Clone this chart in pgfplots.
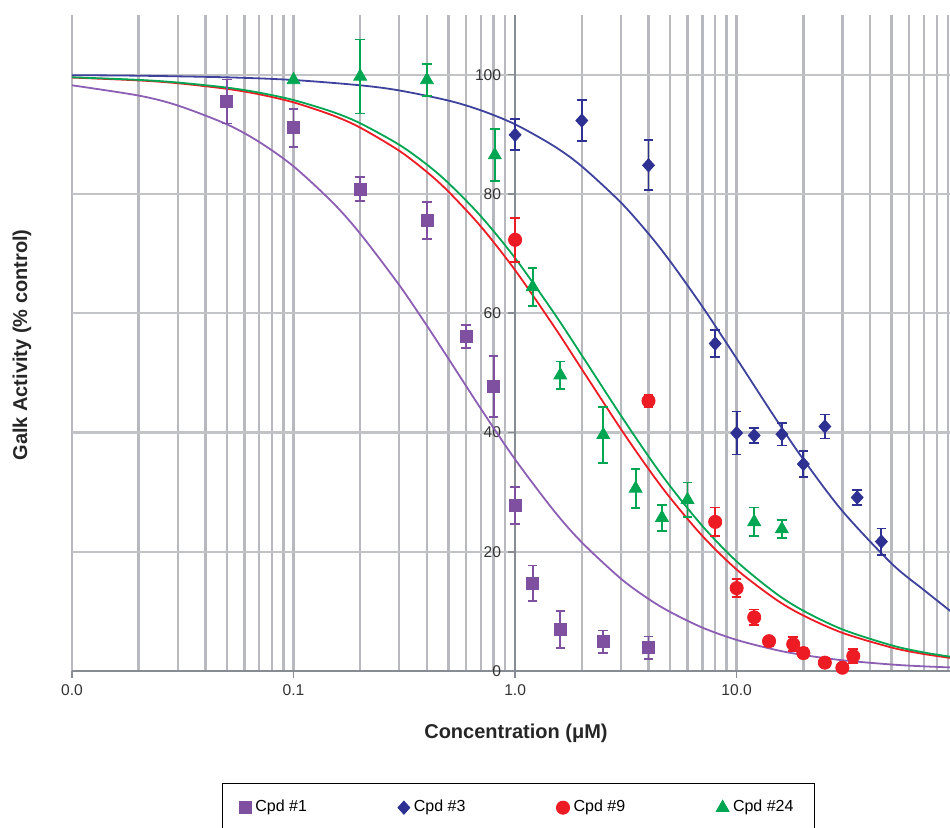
\documentclass[border=0pt]{standalone}
\usepackage{pgfplots}
\pgfplotsset{compat=1.18}
\usepackage{fontspec}
\setmainfont{Liberation Sans}
\definecolor{cpurple}{RGB}{128,80,160}
\definecolor{cpurpleL}{RGB}{140,95,180}
\definecolor{cblue}{RGB}{46,49,146}
\definecolor{cblueL}{RGB}{62,66,156}
\definecolor{cred}{RGB}{237,28,36}
\definecolor{cgreen}{RGB}{0,166,81}
\definecolor{gridv}{RGB}{184,185,190}
\definecolor{gridh}{RGB}{194,195,199}
\definecolor{axisgray}{RGB}{135,140,147}
\begin{document}
\begin{tikzpicture}
\begin{axis}[
  at={(36pt,78pt)}, anchor=south west,
  scale only axis, width=439pt, height=328pt,
  xmode=log, log basis x=10,
  xmin=0.01, xmax=91.8, ymin=0, ymax=110,
  enlargelimits=false,
  axis x line=bottom, axis y line=middle,
  axis line style={-},
  x axis line style={draw=axisgray, line width=1.1pt},
  y axis line style={draw=axisgray, line width=0.7pt},
  hide obscured x ticks=false, hide obscured y ticks=false,
  xtick={0.01,0.1,1,10}, xticklabels={0.0,0.1,1.0,10.0},
  minor xtick={0.02,0.03,0.04,0.05,0.06,0.07,0.08,0.09,0.2,0.3,0.4,0.5,0.6,0.7,0.8,0.9,2,3,4,5,6,7,8,9,20,30,40,50,60,70,80,90},
  ytick={0,20,40,60,80,100},
  tick align=outside, major tick length=3.5pt, minor tick length=0pt,
  tick style={axisgray, line width=0.8pt},
  xmajorgrids, xminorgrids, ymajorgrids,
  major x grid style={gridv, line width=1.2pt},
  minor x grid style={gridv, line width=1.2pt},
  major y grid style={gridh, line width=1.1pt},
  tick label style={font=\fontsize{7.8}{9}\selectfont, text=black!80},
  /pgf/number format/assume math mode=true,
  every axis x label/.style={at={(axis description cs:0.5057,-0.0945)}, anchor=center, font=\fontsize{10}{12}\selectfont\bfseries, text=black!85},
  every axis y label/.style={at={(axis description cs:-0.0569,0.497)}, anchor=center, rotate=90, font=\fontsize{10}{12}\selectfont\bfseries, text=black!85},
  xlabel={Concentration (μM)}, ylabel={Galk Activity (\% control)},
  legend columns=4,
  legend style={at={(0.1708,-0.1707)}, anchor=north west, draw=black, font=\fontsize{8}{9.6}\selectfont, inner xsep=8.5pt, inner ysep=6.5pt, /tikz/every even column/.append style={column sep=43.5pt}},
  legend image code/.code={\draw[#1, only marks] plot coordinates {(0pt,0pt)};},
]
% fitted curves
\addplot[cpurpleL, line width=0.9pt, smooth, forget plot] coordinates {
(0.01,98.21)(0.02,96.49)(0.03,94.83)(0.05,91.67)(0.07,88.71)(0.1,84.62)(0.15,78.57)(0.2,73.33)(0.3,64.71)(0.4,57.89)(0.5,52.38)(0.7,44.00)(1.0,35.48)(1.5,26.83)(2,21.57)(3,15.49)(4,12.09)(5,9.92)(7,7.28)(10,5.21)(15,3.54)(20,2.68)(30,1.80)(50,1.09)(70,0.78)(100,0.55)};
\addplot[cblueL, line width=0.9pt, smooth, forget plot] coordinates {
(0.01,99.91)(0.02,99.82)(0.05,99.55)(0.1,99.10)(0.2,98.21)(0.3,97.35)(0.5,95.65)(0.7,94.02)(1,91.67)(1.5,88.00)(2,84.62)(3,78.57)(4,73.33)(5,68.75)(7,61.11)(10,52.38)(15,42.31)(20,35.48)(30,26.83)(50,18.03)(70,13.58)(100,9.02)};
\addplot[cred, line width=0.9pt, smooth, forget plot] coordinates {
(0.01,99.51)(0.02,99.03)(0.03,98.56)(0.05,97.62)(0.07,96.70)(0.1,95.35)(0.15,93.18)(0.2,91.11)(0.3,87.23)(0.4,83.67)(0.5,80.39)(0.7,74.55)(1.0,67.21)(1.5,57.75)(2,50.62)(3,40.59)(4,33.88)(5,29.08)(7,22.65)(10,17.01)(15,12.02)(20,9.30)(30,6.40)(50,3.94)(70,2.85)(100,2.01)};
\addplot[cgreen, line width=0.9pt, smooth, forget plot] coordinates {
(0.01,99.56)(0.02,99.12)(0.03,98.68)(0.05,97.83)(0.07,96.98)(0.1,95.74)(0.15,93.75)(0.2,91.84)(0.3,88.24)(0.4,84.91)(0.5,81.82)(0.7,76.27)(1.0,69.23)(1.5,60.00)(2,52.94)(3,42.86)(4,36.00)(5,31.03)(7,24.32)(10,18.37)(15,13.04)(20,10.11)(30,6.98)(50,4.31)(70,3.11)(100,2.20)};
% data
\addplot[only marks, color=cpurple, mark=square*, mark size=3pt, mark options={solid, fill=cpurple, draw=cpurple},
  error bars/.cd, y dir=both, y explicit, error bar style={line width=0.9pt}, error mark options={rotate=90, mark size=2.4pt, line width=0.9pt}]
coordinates {(0.05,95.5) +- (0,3.7) (0.1,91.1) +- (0,3.2) (0.2,80.8) +- (0,2.0) (0.4,75.6) +- (0,3.1) (0.6,56.1) +- (0,1.9) (0.8,47.7) +- (0,5.1) (1.0,27.7) +- (0,3.1) (1.2,14.7) +- (0,3.0) (1.6,7.0) +- (0,3.1) (2.5,4.9) +- (0,1.9) (4.0,3.9) +- (0,1.9)};
\addlegendentry{Cpd \#1}
\addplot[only marks, color=cblue, mark=diamond*, mark size=3.3pt, mark options={solid, fill=cblue, draw=cblue, xscale=1.2},
  error bars/.cd, y dir=both, y explicit, error bar style={line width=0.9pt}, error mark options={rotate=90, mark size=2.4pt, line width=0.9pt}]
coordinates {(1.0,89.9) +- (0,2.6) (2.0,92.3) +- (0,3.4) (4.0,84.8) +- (0,4.2) (8.0,54.9) +- (0,2.3) (10,39.9) +- (0,3.6) (12,39.5) +- (0,1.3) (16,39.7) +- (0,1.9) (20,34.7) +- (0,2.2) (25,41.0) +- (0,2.0) (35,29.1) +- (0,1.2) (45,21.7) +- (0,2.2)};
\addlegendentry{Cpd \#3}
\addplot[only marks, color=cred, mark=*, mark size=3.3pt, mark options={solid, fill=cred, draw=cred},
  error bars/.cd, y dir=both, y explicit, error bar style={line width=0.9pt}, error mark options={rotate=90, mark size=2.4pt, line width=0.9pt}]
coordinates {(1.0,72.3) +- (0,3.7) (4.0,45.3) +- (0,1.0) (8.0,25.0) +- (0,2.4) (10,13.9) +- (0,1.5) (12,9.0) +- (0,1.3) (14,5.0) +- (0,0.8) (18,4.5) +- (0,1.2) (20,3.0) +- (0,0.8) (25,1.4) +- (0,0.8) (30,0.55) +- (0,0.5) (33.6,2.5) +- (0,1.2)};
\addlegendentry{Cpd \#9}
\addplot[only marks, color=cgreen, mark=triangle*, mark size=3.7pt, mark options={solid, fill=cgreen, draw=cgreen},
  error bars/.cd, y dir=both, y explicit, error bar style={line width=0.9pt}, error mark options={rotate=90, mark size=2.4pt, line width=0.9pt}]
coordinates {(0.1,99.1) +- (0,0) (0.2,99.7) +- (0,6.2) (0.4,99.1) +- (0,2.7) (0.81,86.5) +- (0,4.4) (1.2,64.4) +- (0,3.2) (1.6,49.6) +- (0,2.3) (2.5,39.6) +- (0,4.7) (3.5,30.6) +- (0,3.3) (4.6,25.7) +- (0,2.2) (6.0,28.7) +- (0,2.9) (12,25.0) +- (0,2.4) (16,23.8) +- (0,1.5)};
\addlegendentry{Cpd \#24}
\end{axis}
\pgfresetboundingbox
\path[use as bounding box] (0,0) rectangle (475pt,413.5pt);
\end{tikzpicture}
\end{document}
